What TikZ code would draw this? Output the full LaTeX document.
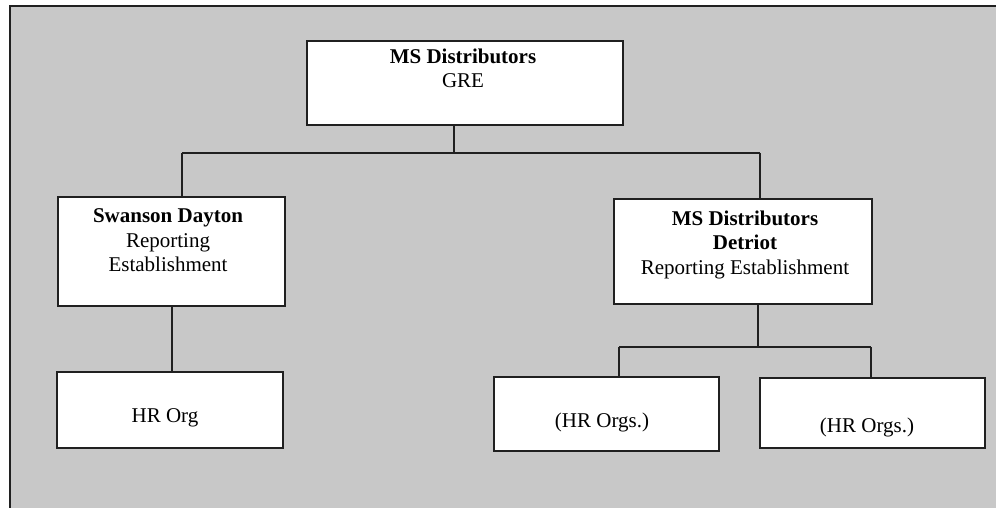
\documentclass[tikz,border=0pt]{standalone}
\usepackage{fontspec}
\setmainfont{Liberation Serif}
\usetikzlibrary{positioning}
\definecolor{panelgray}{RGB}{200,200,200}
\definecolor{edgegray}{RGB}{32,32,32}
\begin{document}
\begin{tikzpicture}[x=1pt,y=-1pt,
    orgbox/.style={draw=edgegray,fill=white,line width=1.6pt,inner sep=0pt},
    orgtext/.style={font=\fontsize{21}{24.5}\selectfont,align=center,inner sep=0pt,anchor=north},
    link/.style={draw=edgegray,line width=1.6pt}]
  \useasboundingbox (0,0) rectangle (996,508);
  %
  \fill[white] (0,0) rectangle (996,508);
  \fill[panelgray] (10,6) rectangle (996,508);
  \draw[edgegray,line width=2pt] (10,508) -- (10,6) -- (996,6);
  %
  \node[orgbox,minimum width=316pt,minimum height=84pt] (gre) at (465,83) {};
  \node[orgbox,minimum width=227pt,minimum height=109pt] (dayton) at (171.5,251.5) {};
  \node[orgbox,minimum width=258pt,minimum height=105pt] (detroit) at (743,251.5) {};
  \node[orgbox,minimum width=226pt,minimum height=76pt] (hrorg) at (170,410) {};
  \node[orgbox,minimum width=225pt,minimum height=74pt] (hrorgsA) at (606.5,414) {};
  \node[orgbox,minimum width=225pt,minimum height=70pt] (hrorgsB) at (872.5,413) {};
  %
  \node[orgtext] (gre-t) at (463,48.5) {\textbf{MS Distributors}\\GRE};
  \node[orgtext] (dayton-t) at (168,208.5) {\textbf{Swanson Dayton}\\Reporting\\Establishment};
  \node[orgtext] (detroit-t) at (745,210.5) {\textbf{MS Distributors}\\\textbf{Detriot}\\Reporting Establishment};
  \node[orgtext] (hrorg-t) at (165,408.5) {HR Org};
  \node[orgtext] (hrorgsA-t) at (602,412.5) {(HR Orgs.)};
  \node[orgtext] (hrorgsB-t) at (867,417.5) {(HR Orgs.)};
  %
  \coordinate (top-mid) at (454,153);
  \coordinate (top-l) at (182,153);
  \coordinate (top-r) at (760,153);
  \coordinate (drop) at (172,340);
  \coordinate (sub-mid) at (758,347);
  \coordinate (sub-l) at (619,347);
  \coordinate (sub-r) at (871,347);
  %
  \draw[link] (gre.south -| top-mid) -- (top-mid);
  \draw[link] (top-l) -- (top-r);
  \draw[link] (top-l) -- (top-l |- dayton.north);
  \draw[link] (top-r) -- (top-r |- detroit.north);
  \draw[link] (dayton.south -| drop) -- (drop |- hrorg.north);
  \draw[link] (detroit.south -| sub-mid) -- (sub-mid);
  \draw[link] (sub-l) -- (sub-r);
  \draw[link] (sub-l) -- (sub-l |- hrorgsA.north);
  \draw[link] (sub-r) -- (sub-r |- hrorgsB.north);
\end{tikzpicture}
\end{document}
